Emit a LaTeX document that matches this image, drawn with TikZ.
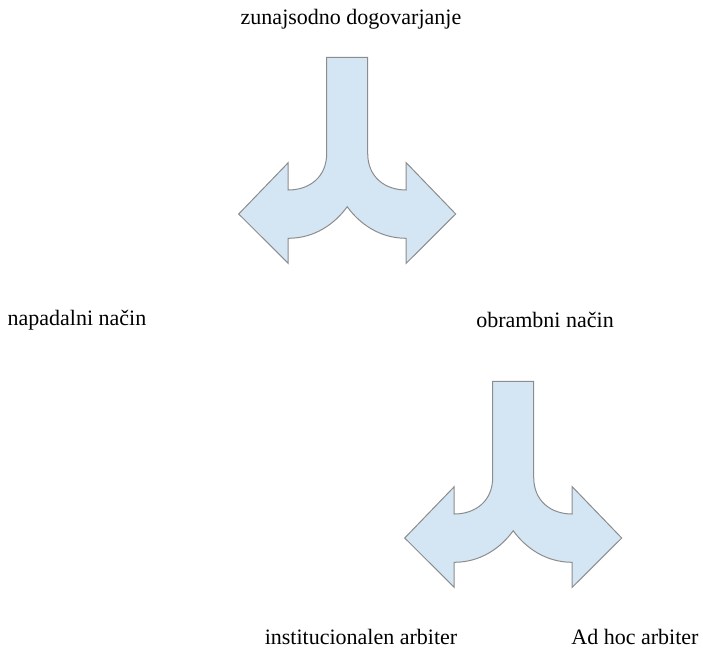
\documentclass[tikz,border=0pt]{standalone}
\usepackage{fontspec}
\setmainfont{Liberation Serif}
\definecolor{splitfill}{RGB}{212,230,244}
\definecolor{splitline}{RGB}{140,140,140}
\tikzset{
  lbl/.style={font=\fontsize{22}{26}\selectfont, inner sep=0pt},
  split/.pic={
    \draw [fill=splitfill, draw=splitline, line width=1pt, line join=miter]
      (-20.5,0) -- (20.5,0) -- (20.5,96)
      .. controls (20.5,120) and (38,132.7) .. (59,132.7)
      -- (59,105.4) -- (108.5,156.7) -- (59,206) -- (59,181)
      .. controls (32,181) and (12,166) .. (0,149.4)
      .. controls (-12,166) and (-32,181) .. (-59,181)
      -- (-59,206) -- (-108.5,156.7) -- (-59,105.4) -- (-59,132.7)
      .. controls (-38,132.7) and (-20.5,120) .. (-20.5,96) -- cycle;
  }
}
\begin{document}
\begin{tikzpicture}[x=1pt,y=-1pt]
  \useasboundingbox (0,0) rectangle (703,651);
  % upper split
  \pic (top) at (347.2,57.3) {split};
  \node [lbl] (agree) at (351,19) {zunajsodno dogovarjanje};
  \node [lbl] (attack) at (77,320) {napadalni način};
  \node [lbl] (defend) at (545,320) {obrambni način};
  % lower split
  \pic (low) at (513.2,381.3) {split};
  \node [lbl] (inst) at (361,637) {institucionalen arbiter};
  \node [lbl] (adhoc) at (635,637) {Ad hoc arbiter};
\end{tikzpicture}
\end{document}
